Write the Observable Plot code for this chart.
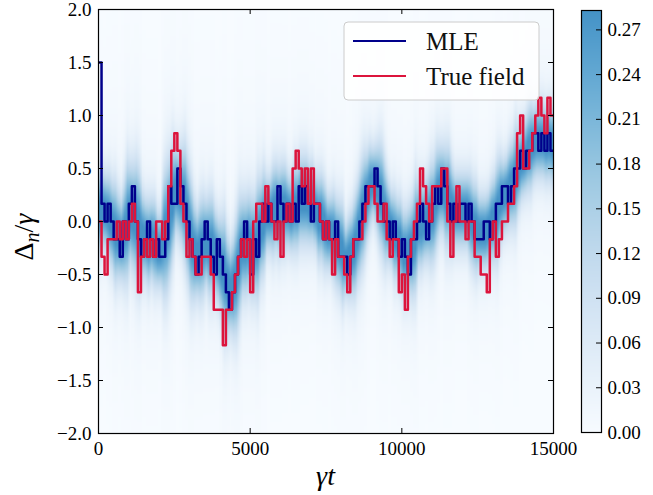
<!DOCTYPE html>
<html><head><meta charset="utf-8">
<script src="https://cdn.jsdelivr.net/npm/d3@7"></script>
<script src="https://cdn.jsdelivr.net/npm/@observablehq/plot@0.6"></script>
<style>
body{margin:0;background:#fff;}
#wrap{position:relative;width:653px;height:495px;}
#main,#cbar{position:absolute;top:0;}
#main{left:0;}
#cbar{left:561px;}
</style></head><body>
<div id="wrap"><div id="main"></div><div id="cbar"></div></div>
<script>
// ---- data (levels in units of 1/6 of gamma, one value per 100 time units) ----
const binWidth = 100;
const levelStep = 1 / 6;
const mleLevels = [
  9,1,0,1,0,-1,-1,-2,0,-1,1,2,0,-1,-2,-1,0,-1,-2,-1,-2,-2,-1,2,1,
  1,3,2,1,0,-1,-2,-3,-2,-1,0,-1,-2,-3,-1,-2,-3,-4,-5,-4,-3,-2,-1,0,-1,
  -3,-1,-2,0,1,0,1,0,0,2,1,0,1,0,1,0,2,1,2,1,0,1,1,0,-1,
  0,-1,-1,0,-2,-2,-2,-3,-2,-1,-1,0,1,2,2,2,3,2,1,0,0,-1,0,-1,-2,
  -1,-2,-3,-1,-1,0,1,0,-1,0,1,2,1,3,2,1,0,1,0,1,1,0,1,0,-1,
  -1,-1,0,0,-1,0,1,1,2,2,1,2,3,3,4,3,4,4,5,5,4,5,4,5,4
];
const trueLevels = [
  0,-2,-3,-1,-1,-1,0,-1,0,-1,0,1,0,-4,-2,-1,-2,-1,-2,0,0,-1,0,2,4,
  5,4,1,0,-2,-1,-2,-3,-3,-2,-2,-2,-3,-5,-5,-5,-7,-5,-5,-4,-3,-2,-1,-2,-1,
  -4,0,1,1,0,2,1,0,-1,0,-2,0,1,0,3,4,3,2,3,1,3,1,1,0,-1,
  0,-1,-3,-1,-2,-2,-3,-4,-2,-1,-1,-1,0,1,2,2,1,0,0,1,-1,-2,-1,-1,-4,
  -3,-5,-2,-1,0,1,3,2,1,0,2,2,2,3,3,0,-2,0,2,0,0,-1,0,0,-2,
  -2,-3,-3,-4,-1,0,-2,-1,0,0,1,1,2,5,6,3,3,4,5,6,7,6,5,7,6
];
const xTicks = [0, 5000, 10000, 15000];
const yTicks = [-2, -1.5, -1, -0.5, 0, 0.5, 1, 1.5, 2];
const cbTicks = [0, 0.03, 0.06, 0.09, 0.12, 0.15, 0.18, 0.21, 0.24, 0.27];
const colorMax = 0.283;
const legendLabels = ["MLE", "True field"];
const lineColors = ["#00008b", "#dc143c"];

// ---- derived tables ----
const nCols = mleLevels.length;
const tMax = nCols * binWidth;
const toSeries = levels => {
  const pts = levels.map((k, i) => ({t: i * binWidth, v: k * levelStep}));
  pts.push({t: tMax, v: levels[levels.length - 1] * levelStep});
  return pts;
};
const mleSeries = toSeries(mleLevels);
const trueSeries = toSeries(trueLevels);

// posterior map built around the MLE track (centre = local mean, width = local spread)
const nRows = 200, dMin = -2, dMax = 2;
const colStats = mleLevels.map((_, i) => {
  const w = mleLevels.slice(Math.max(1, i - 2), Math.min(nCols, i + 3)).map(k => k * levelStep);
  const m = d3.mean(w), s = d3.deviation(w) || 0;
  return {m, sig: 0.15 + 0.8 * s, tail: 0.3 + 1.2 * s};
});
const density = new Array(nCols * nRows);
for (let j = 0; j < nRows; j++) {
  const d = dMin + (j + 0.5) * (dMax - dMin) / nRows;
  for (let i = 0; i < nCols; i++) {
    const {m, sig, tail} = colStats[i];
    const z = d - m;
    density[i + j * nCols] = 0.24 * Math.exp(-z * z / (2 * sig * sig)) + 0.07 * Math.exp(-Math.abs(z) / tail);
  }
}

const colorScale = {type: "linear", domain: [0, colorMax], interpolate: t => d3.interpolateBlues(t * 0.62), clamp: true};
const font = "'Liberation Serif', 'DejaVu Serif', serif";
const minus = s => s.replace("-", "\u2212");

const W = 653, H = 495, mL = 98, mR = 100, mT = 9, mB = 62;
const innerH = H - mT - mB, innerW = W - mL - mR;
const tick = 5;

const main = Plot.plot({
  width: W, height: H,
  marginLeft: mL, marginRight: mR, marginTop: mT, marginBottom: mB,
  style: {fontFamily: font, fontSize: "19px", background: "white", color: "black"},
  x: {domain: [0, tMax], label: null},
  y: {domain: [dMin, dMax], label: null},
  color: colorScale,
  marks: [
    Plot.raster(density, {width: nCols, height: nRows, x1: 0, x2: tMax, y1: dMin, y2: dMax, fill: d => d}),
    Plot.line(mleSeries, {x: "t", y: "v", curve: "step-after", stroke: lineColors[0], strokeWidth: 2.5, clip: true}),
    Plot.line(trueSeries, {x: "t", y: "v", curve: "step-after", stroke: lineColors[1], strokeWidth: 2.5, clip: true}),
    Plot.frame({stroke: "black", strokeWidth: 1.2}),
    Plot.tickX(xTicks, {x: d => d, insetTop: innerH - tick, stroke: "black"}),
    Plot.tickX(xTicks, {x: d => d, insetBottom: innerH - tick, stroke: "black"}),
    Plot.tickY(yTicks, {y: d => d, insetRight: innerW - tick, stroke: "black"}),
    Plot.tickY(yTicks, {y: d => d, insetLeft: innerW - tick, stroke: "black"}),
    Plot.axisX(xTicks, {tickSize: 0, tickPadding: 8, fontSize: 19, tickFormat: d => String(d), label: null}),
    Plot.axisY(yTicks, {tickSize: 0, tickPadding: 7, fontSize: 19, tickFormat: d => minus(d.toFixed(1)), label: null})
  ]
});
document.getElementById("main").appendChild(main);

// axis titles and legend
const svg = d3.select(main);
svg.append("text").attr("x", mL + innerW / 2).attr("y", 485).attr("text-anchor", "middle")
  .attr("font-family", font).attr("font-size", 28).attr("font-style", "italic").text("\u03b3t");
const yl = svg.append("text").attr("transform", "translate(33,237) rotate(-90)").attr("text-anchor", "middle")
  .attr("font-family", font).attr("font-size", 28);
yl.append("tspan").text("\u0394");
yl.append("tspan").attr("font-style", "italic").attr("font-size", 20).attr("dy", 6).text("n");
yl.append("tspan").attr("dy", -6).text("/");
yl.append("tspan").attr("font-style", "italic").text("\u03b3");

const lg = svg.append("g").attr("text-anchor", "start");
lg.append("rect").attr("x", 344).attr("y", 22).attr("width", 195).attr("height", 78).attr("rx", 4)
  .attr("fill", "white").attr("fill-opacity", 0.85).attr("stroke", "#cccccc");
legendLabels.forEach((lab, i) => {
  const y = 41 + i * 35;
  lg.append("line").attr("x1", 353).attr("x2", 406).attr("y1", y).attr("y2", y)
    .attr("stroke", lineColors[i]).attr("stroke-width", 2);
  lg.append("text").attr("x", 426).attr("y", y + 9).attr("text-anchor", "start")
    .attr("font-family", font).attr("font-size", 25).attr("fill", "#111").text(lab);
});

// colour bar
const cbar = Plot.plot({
  width: 92, height: H,
  marginLeft: 20, marginRight: 52, marginTop: 10, marginBottom: 63,
  style: {fontFamily: font, fontSize: "19px", background: "transparent", color: "black"},
  x: {domain: [0, 1], axis: null},
  y: {domain: [0, colorMax], axis: null},
  color: colorScale,
  marks: [
    Plot.raster({fill: (x, y) => y, x1: 0, x2: 1, y1: 0, y2: colorMax}),
    Plot.frame({stroke: "black", strokeWidth: 1.2}),
    Plot.tickY(cbTicks, {y: d => d, insetLeft: 20 - tick, stroke: "black"}),
    Plot.axisY(cbTicks, {anchor: "right", tickSize: 0, tickPadding: 6, fontSize: 19, tickFormat: d => d.toFixed(2), label: null})
  ]
});
document.getElementById("cbar").appendChild(cbar);
</script>
</body></html>
